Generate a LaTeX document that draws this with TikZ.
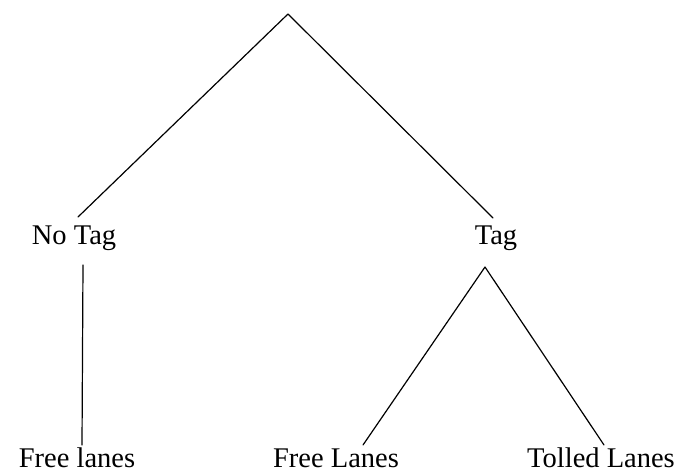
\documentclass[tikz,border=0pt]{standalone}
\usepackage{fontspec}
\setmainfont{Liberation Serif}
\begin{document}
\begin{tikzpicture}[x=1pt,y=-1pt,
  lbl/.style={font=\fontsize{28.5}{30}\selectfont, anchor=base, inner sep=0pt},
  edge/.style={line width=1.2pt, line cap=round, line join=round}]
\path[use as bounding box, fill=white] (0,0) rectangle (686,473);
\coordinate (root) at (288,14);
\node[lbl] (notag) at (74,245) {No Tag};
\node[lbl] (tag) at (496,245) {Tag};
\node[lbl] (free1) at (77,467) {Free lanes};
\node[lbl] (free2) at (336,467) {Free Lanes};
\node[lbl] (tolled) at (601,467) {Tolled Lanes};
% line ends
\coordinate (notagtop) at (78,217);
\coordinate (tagtop) at (493,218);
\coordinate (notagbot) at (83,265);
\coordinate (free1top) at (82,445);
\coordinate (tagbot) at (485,267);
\coordinate (free2top) at (363,445);
\coordinate (tolledtop) at (604,445);
\draw[edge] (notagtop) -- (root) -- (tagtop);
\draw[edge] (notagbot) -- (free1top);
\draw[edge] (free2top) -- (tagbot) -- (tolledtop);
\end{tikzpicture}
\end{document}
